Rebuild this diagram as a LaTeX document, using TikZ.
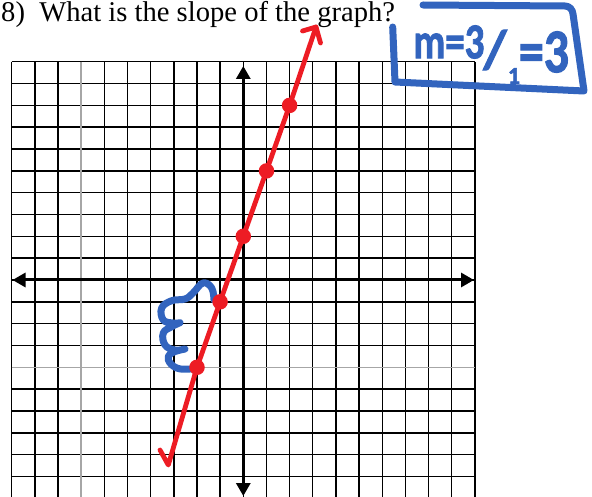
\documentclass[tikz,border=0pt]{standalone}
\usepackage{fontspec}
\setmainfont{Liberation Serif}
\newfontfamily\handfont[BoldFeatures={FakeBold=2}]{Carlito}
\usetikzlibrary{arrows.meta}
\definecolor{pen}{RGB}{237,28,36}
\definecolor{ink}{RGB}{50,100,190}
\tikzset{
  gridline/.style={black,line width=1.4pt},
  grayline/.style={gray!70,line width=1.5pt},
  axisline/.style={black,line width=3pt,{Triangle[length=13pt,width=14pt]}-{Triangle[length=13pt,width=14pt]}},
  redpen/.style={pen,line width=4.8pt,line cap=round,line join=round},
  bluepen/.style={ink,line width=7pt,line cap=round,line join=round},
  dot/.style={circle,fill=pen,inner sep=0pt,minimum size=15.5pt},
  handtext/.style={ink,inner sep=0pt,font=\handfont\bfseries},
}
\begin{document}
\begin{tikzpicture}[x=1pt,y=-1pt]
\useasboundingbox (0,0) rectangle (592,497);
\fill[white] (0,0) rectangle (592,497);
% title
\node[anchor=base west,inner sep=0pt,font=\fontsize{28.6}{30}\selectfont] (title) at (1,21.7) {8)\ \ What is the slope of the graph?};
% grid
\foreach \i in {0,...,20}
  \draw[gridline] ({11.7+23.16*\i},61.7) -- ({11.7+23.16*\i},497);
\foreach \j in {0,...,19}
  \draw[gridline] (11.7,{61.7+21.83*\j}) -- (475,{61.7+21.83*\j});
\draw[grayline] ({11.7+23.16*3},61.7) -- ({11.7+23.16*3},497);
\draw[grayline] (11.7,{61.7+21.83*14}) -- (475,{61.7+21.83*14});
% axes
\coordinate (xl) at (12.5,280);
\coordinate (xr) at (474,280);
\coordinate (yt) at (243.3,66);
\coordinate (yb) at (243.3,496);
\draw[axisline] (xl) -- (xr);
\draw[axisline] (yb) -- (yt);
% blue brace
\draw[bluepen] plot[smooth,tension=0.7] coordinates {(214,300) (211.7,288) (203,283) (193,293) (185,299) (171.7,300.7) (161.7,308) (163.3,320) (173,323) (180,322.7)}
  plot[smooth,tension=0.7] coordinates {(180,322.7) (171.7,326.7) (163.3,333) (165,345) (175,350) (185,349)}
  plot[smooth,tension=0.7] coordinates {(185,349) (171.7,353) (168.3,360) (176.7,368) (190,369) (198,367)};
% blue box
\draw[bluepen] (423,5) -- (565,6) to[out=0,in=95] (573,14) -- (584,91) -- (395,82) -- (392.7,27);
% blue text
\node[handtext,font=\handfont\bfseries\fontsize{50}{50}\selectfont] (mtext) at (449,42) {\scalebox{0.78}[1]{m=3}};
\node[handtext,font=\handfont\bfseries\fontsize{54}{54}\selectfont] (slash) at (495,50) {/};
\node[handtext,font=\handfont\bfseries\fontsize{24}{24}\selectfont] (one) at (514,76) {1};
\node[handtext,font=\handfont\bfseries\fontsize{62}{62}\selectfont] (eqthree) at (544,52) {\scalebox{0.8}[1]{=3}};
% red line
\node[dot] (p1) at (197.0,367.3) {};
\node[dot] (p2) at (220.1,301.8) {};
\node[dot] (p3) at (243.3,236.3) {};
\node[dot] (p4) at (266.5,170.9) {};
\node[dot] (p5) at (289.6,105.4) {};
\coordinate (hook) at (160,450);
\coordinate (bot) at (168.3,465);
\coordinate (tip) at (316,27);
\coordinate (barbl) at (302.5,31);
\coordinate (barbr) at (320.5,43);
\draw[redpen] (hook) -- (bot) -- (p1.center) -- (p2.center) -- (p3.center) -- (p4.center) -- (p5.center) -- (tip);
\draw[redpen] (barbl) -- (tip) -- (barbr);
\end{tikzpicture}
\end{document}
